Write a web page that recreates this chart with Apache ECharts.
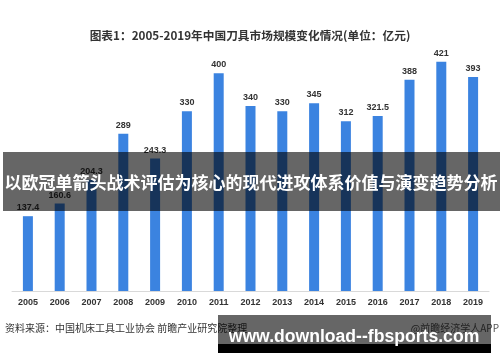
<!DOCTYPE html>
<html><head><meta charset="utf-8">
<script src="https://cdn.jsdelivr.net/npm/echarts@6/dist/echarts.min.js"></script>
<style>html,body{margin:0;padding:0;background:#fff}#c{width:500px;height:362px}</style>
</head><body><div id="c"></div>
<script>
const years = ['2005','2006','2007','2008','2009','2010','2011','2012','2013','2014','2015','2016','2017','2018','2019'];
const marketSize = [137.4, 160.6, 204.3, 289, 243.3, 330, 400, 340, 330, 345, 312, 321.5, 388, 421, 393];
const valueLabels = ['137.4','160.6','204.3','289','243.3','330','400','340','330','345','312','321.5','388','421','393'];
const titleText = '图表1：2005-2019年中国刀具市场规模变化情况(单位：亿元)';
const bannerText = '以欧冠单箭头战术评估为核心的现代进攻体系价值与演变趋势分析';
const sourceText = '资料来源：中国机床工具工业协会 前瞻产业研究院整理';
const creditText = '@前瞻经济学人APP';
const urlText = 'www.download--fbsports.com';

const chart = echarts.init(document.getElementById('c'), null, {renderer:'canvas'});
const cjk = '"Noto Sans CJK SC", "Noto Sans", sans-serif';
chart.setOption({
  animation:false,
  backgroundColor:'#fff',
  title:{text:titleText,left:'center',top:25,textStyle:{fontFamily:cjk,fontSize:11.7,fontWeight:'bold',color:'#333'}},
  grid:{left:12,right:11,top:46,bottom:71},
  xAxis:{type:'category',data:years,
    axisLine:{lineStyle:{color:'#d9d9d9',width:1}},axisTick:{show:false},
    axisLabel:{fontFamily:'"Liberation Sans", Arial, sans-serif',fontSize:9,fontWeight:'bold',color:'#333',margin:7}},
  yAxis:{type:'value',min:0,max:450,show:false,splitLine:{show:false}},
  series:[{type:'bar',data:marketSize,barWidth:10,
    itemStyle:{color:'#3b83e0'},
    label:{show:true,position:'top',distance:4,fontFamily:'"Liberation Sans", Arial, sans-serif',fontSize:9,fontWeight:'bold',color:'#333',
      formatter:p=>valueLabels[p.dataIndex]}}],
  graphic:[
    {type:'text',left:5,top:323,z:10,style:{text:sourceText,fontFamily:cjk,fontSize:10,fill:'#333'}},
    {type:'text',right:1,top:323,z:10,style:{text:creditText,fontFamily:cjk,fontSize:10,fill:'#555'}},
    {type:'rect',shape:{x:3,y:152,width:497,height:59},z:100,style:{fill:'rgba(0,0,0,0.6)'}},
    {type:'text',x:251,y:183,z:101,style:{text:bannerText,fontFamily:cjk,fontSize:17,fontWeight:'bold',fill:'#fff',align:'center',verticalAlign:'middle'}},
    {type:'rect',shape:{x:218,y:315,width:273,height:29},z:100,style:{fill:'rgba(0,0,0,0.6)'}},
    {type:'rect',shape:{x:218,y:344,width:273,height:9},z:100,style:{fill:'#000'}},
    {type:'text',x:354,y:337,z:101,style:{text:urlText,fontFamily:'"Liberation Sans", Arial, sans-serif',fontSize:17.6,fontWeight:'bold',fill:'#fff',align:'center',verticalAlign:'middle'}}
  ]
});
</script></body></html>
